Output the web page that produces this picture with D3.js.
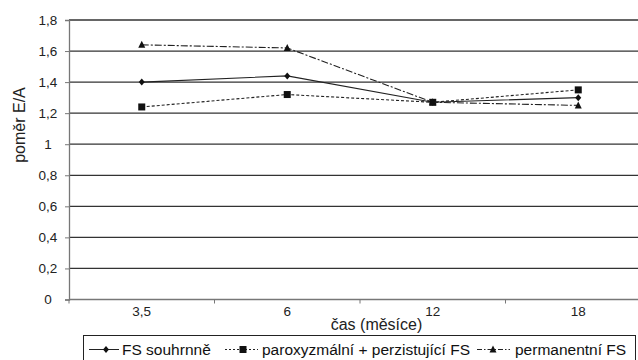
<!DOCTYPE html>
<html>
<head>
<meta charset="utf-8">
<script src="https://cdn.jsdelivr.net/npm/d3@7"></script>
<style>
  html, body { margin: 0; padding: 0; background: #fff; }
  svg { display: block; font-family: "Liberation Sans", Arial, sans-serif; }
</style>
</head>
<body>
<svg id="chart" width="638" height="360"></svg>
<script>
// Time points (months) and E/A ratio per patient group
const categories = ["3,5", "6", "12", "18"];
const souhrnne = [1.40, 1.44, 1.27, 1.30];
const paroxyzmalni = [1.24, 1.32, 1.27, 1.35];
const permanentni = [1.64, 1.62, 1.27, 1.25];
const yTicks = [0, 0.2, 0.4, 0.6, 0.8, 1, 1.2, 1.4, 1.6, 1.8];
const seriesNames = ["FS souhrnně", "paroxyzmální + perzistující FS", "permanentní FS"];

const series = [
  { name: seriesNames[0], values: souhrnne, dash: null, marker: "diamond" },
  { name: seriesNames[1], values: paroxyzmalni, dash: "3,2", marker: "square" },
  { name: seriesNames[2], values: permanentni, dash: "7,2,2,2", marker: "triangle" }
];

const svg = d3.select("#chart");
const plotLeft = 69, plotRight = 651, plotTop = 20, plotBottom = 299.5;

const x = d3.scaleBand().domain(categories).range([plotLeft, plotRight]).padding(0);
const y = d3.scaleLinear().domain([0, 1.8]).range([plotBottom, plotTop]);
const fmt = v => String(v).replace(".", ",");

// horizontal gridlines
svg.append("g").selectAll("line").data(yTicks.filter(t => t > 0)).join("line")
  .attr("x1", plotLeft).attr("x2", plotRight)
  .attr("y1", d => y(d)).attr("y2", d => y(d))
  .attr("stroke", "#333").attr("stroke-width", 1.3);

// y axis
const yAxis = svg.append("g").attr("transform", `translate(${plotLeft},0)`)
  .call(d3.axisLeft(y).tickValues(yTicks).tickFormat(fmt).tickSize(4).tickPadding(8));
yAxis.select(".domain").attr("stroke", "#777").attr("stroke-width", 1.3);
yAxis.selectAll(".tick line").attr("stroke", "#777");
yAxis.selectAll(".tick text").attr("font-size", 13.5).attr("fill", "#222")
  .attr("font-family", "Liberation Sans, Arial, sans-serif")
  .attr("text-anchor", "middle").attr("x", 48 - plotLeft);

// x axis (category boundaries as ticks)
const xAxisG = svg.append("g").attr("transform", `translate(0,${plotBottom})`);
xAxisG.append("line").attr("x1", plotLeft).attr("x2", plotRight)
  .attr("stroke", "#777").attr("stroke-width", 1.3);
xAxisG.selectAll("line.tk").data(categories).join("line").attr("class", "tk")
  .attr("x1", d => x(d)).attr("x2", d => x(d))
  .attr("y1", 0).attr("y2", 4).attr("stroke", "#777");
xAxisG.selectAll("text").data(categories).join("text")
  .attr("x", d => x(d) + x.bandwidth() / 2).attr("y", 16)
  .attr("text-anchor", "middle").attr("font-size", 13.5).attr("fill", "#222")
  .text(d => d);

// axis titles
svg.append("text").attr("x", 376.5).attr("y", 330).attr("text-anchor", "middle")
  .attr("font-size", 16).attr("fill", "#222").text("čas (měsíce)");
svg.append("text").attr("transform", `translate(25,125) rotate(-90)`)
  .attr("text-anchor", "middle").attr("font-size", 16).attr("fill", "#222")
  .text("poměr E/A");

const cx = c => x(c) + x.bandwidth() / 2;

function drawMarker(g, type, px, py) {
  if (type === "diamond") {
    g.append("path").attr("d", `M${px},${py - 3.5}L${px + 3},${py}L${px},${py + 3.5}L${px - 3},${py}Z`).attr("fill", "#111");
  } else if (type === "square") {
    g.append("rect").attr("x", px - 3.5).attr("y", py - 3.5).attr("width", 7).attr("height", 7).attr("fill", "#111");
  } else {
    g.append("path").attr("d", `M${px},${py - 4}L${px + 3.5},${py + 3}L${px - 3.5},${py + 3}Z`).attr("fill", "#111");
  }
}

const line = d3.line().x((d, i) => cx(categories[i])).y(d => y(d));
series.forEach(s => {
  const g = svg.append("g");
  g.append("path").attr("d", line(s.values)).attr("fill", "none")
    .attr("stroke", "#222").attr("stroke-width", 1.1)
    .attr("stroke-dasharray", s.dash);
  s.values.forEach((v, i) => drawMarker(g, s.marker, cx(categories[i]), y(v)));
});

// legend
const lg = svg.append("g");
lg.append("rect").attr("x", 83.5).attr("y", 335.5).attr("width", 552).attr("height", 30)
  .attr("fill", "#fff").attr("stroke", "#222").attr("stroke-width", 1);
const legendItems = [
  { s: series[0], x0: 89, x1: 119, mx: 106, tx: 122 },
  { s: series[1], x0: 225, x1: 258, mx: 243, tx: 262 },
  { s: series[2], x0: 477, x1: 510, mx: 493, tx: 515 }
];
legendItems.forEach(it => {
  const ly = 349.5;
  lg.append("line").attr("x1", it.x0).attr("x2", it.x1).attr("y1", ly).attr("y2", ly)
    .attr("stroke", "#222").attr("stroke-width", 1)
    .attr("stroke-dasharray", it.s.dash ? (it.s.marker === "square" ? "2,2" : "5,2,1.5,2") : null);
  drawMarker(lg, it.s.marker, it.mx, ly);
  lg.append("text").attr("x", it.tx).attr("y", 355).attr("font-size", 15.5)
    .attr("fill", "#111").text(it.s.name);
});
</script>
</body>
</html>
